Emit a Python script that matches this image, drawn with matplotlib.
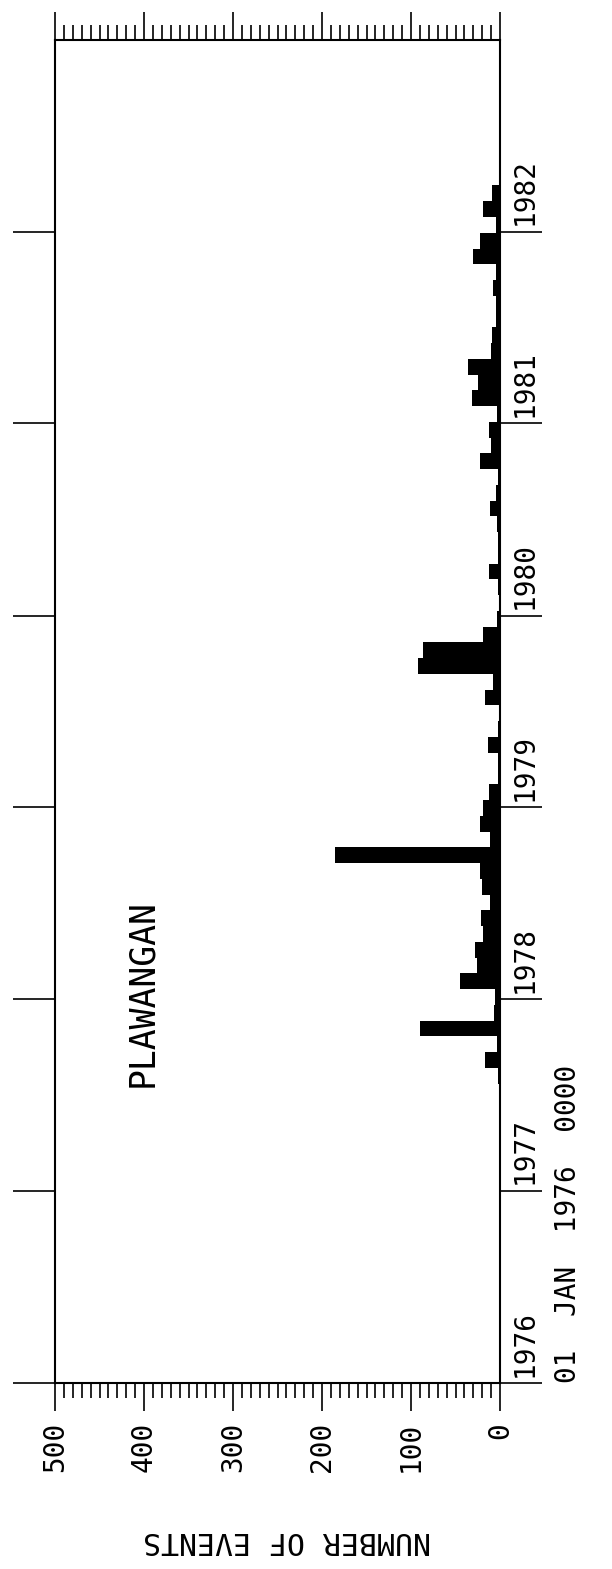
import numpy as np
import matplotlib
matplotlib.use("Agg")
import matplotlib.pyplot as plt

# 30-day bins counted from 01 JAN 1976 0000
bin_days = 30
counts = [
    0, 0, 0, 0, 0, 0, 0, 0, 0, 0, 0, 0,          # bins 0-11
    0, 0, 0, 0, 0, 0, 1, 2, 17, 3, 90, 7,        # bins 12-23
    6, 45, 26, 28, 19, 21, 11, 20, 23, 185, 11, 23,  # bins 24-35
    19, 12, 2, 2, 13, 2, 1, 17, 8, 92, 86, 19,   # bins 36-47
    3, 1, 2, 12, 2, 2, 3, 11, 4, 2, 23, 10,      # bins 48-59
    12, 3, 32, 25, 36, 10, 9, 5, 4, 8, 5, 30,    # bins 60-71
    23, 5, 19, 9, 1, 0, 0, 0, 0, 0, 0, 0,        # bins 72-83
    0, 0,
]
years = [1976, 1977, 1978, 1979, 1980, 1981, 1982, 1983]
value_ticks = [500, 400, 300, 200, 100, 0]
value_labels = ["500", "400", "300", "200", "100", "0"]
station = "PLAWANGAN"
xlabel = "NUMBER OF EVENTS"
start_label = "01  JAN  1976  0000"

t0 = np.datetime64("1976-01-01")
year_days = (np.array([f"{y}-01-01" for y in years], dtype="datetime64[D]") - t0).astype(int)
starts = np.arange(len(counts)) * bin_days

plt.rcParams["font.family"] = ["DejaVu Sans Mono", "DejaVu Sans"]

fig = plt.figure(figsize=(6.12, 15.69), dpi=100)
ax = fig.add_axes([55 / 612, (1569 - 1383) / 1569, 445 / 612, 1343 / 1569])

ax.barh(starts, counts, height=bin_days, align="edge", color="black", linewidth=0)
ax.set_xlim(500, 0)
ax.set_ylim(year_days[0], year_days[-1])

for s in ax.spines.values():
    s.set_linewidth(1.5)

# value axis (top and bottom)
ax.set_xticks(value_ticks)
ax.set_xticklabels(value_labels, rotation=90, fontsize=20)
ax.set_xticks(np.arange(0, 501, 10), minor=True)
ax.tick_params(axis="x", which="major", top=True, bottom=True, direction="out",
               length=20, width=1.2, pad=8)
ax.tick_params(axis="x", which="minor", top=True, bottom=True, direction="out",
               length=11, width=1.2)

# time axis: year boundaries
ax.set_yticks(year_days[:-1])
ax.set_yticklabels([])
ax.tick_params(axis="y", which="major", left=True, right=True, direction="out",
               length=30, width=1.2)

ytr = ax.get_yaxis_transform()
for y, d in zip(years[:-1], year_days[:-1]):
    ax.text(1.056, d + 12, str(y), rotation=90, rotation_mode="anchor",
            ha="left", va="center", fontsize=20, transform=ytr)

ax.text(1.153, 0, start_label, rotation=90, rotation_mode="anchor",
        ha="left", va="center", fontsize=20, transform=ytr)

ax.text(0.195, 0.29, station, rotation=90, ha="center", va="center",
        fontsize=25, transform=ax.transAxes)

fig.text(287 / 612, 1 - 1540 / 1569, xlabel, rotation=180, ha="center",
         va="center", fontsize=21.5)

fig.savefig("out.png", dpi=100)
